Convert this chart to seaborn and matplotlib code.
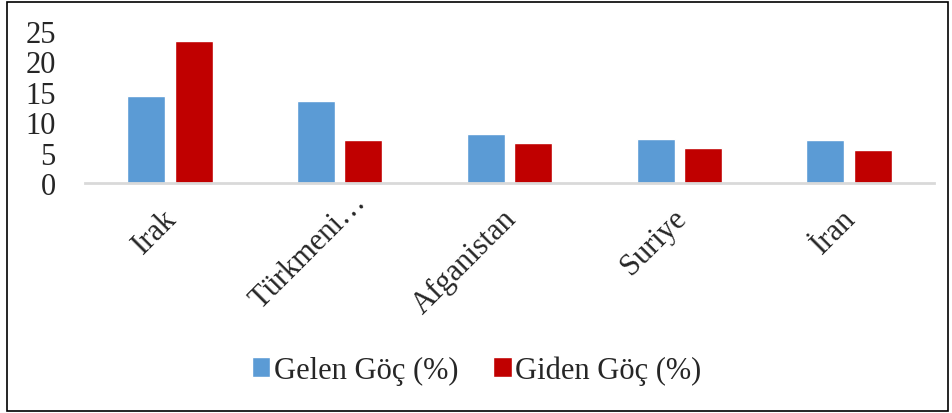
import matplotlib
matplotlib.use("Agg")
import matplotlib.pyplot as plt
import matplotlib.transforms as mtransforms
import seaborn as sns
import pandas as pd
from matplotlib.patches import Rectangle

categories = ["Irak", "Türkmeni…", "Afganistan", "Suriye", "İran"]
gelen = [14.3, 13.5, 8.1, 7.3, 7.1]
giden = [23.3, 7.1, 6.6, 5.8, 5.5]
series_names = ["Gelen Göç (%)", "Giden Göç (%)"]
colors = ["#5B9BD5", "#C00000"]
yticks = [0, 5, 10, 15, 20, 25]

df = pd.DataFrame({
    "Ülke": categories * 2,
    "Değer": gelen + giden,
    "Seri": [series_names[0]] * len(categories) + [series_names[1]] * len(categories),
})

sns.set_theme(style="white")
plt.rcParams["font.family"] = ["Liberation Serif", "DejaVu Serif"]

FS = 22

fig = plt.figure(figsize=(9.53, 4.14), dpi=100)
ax = fig.add_axes([85 / 953, 1 - 184 / 414, (934 - 85) / 953, (184 - 32) / 414])

sns.barplot(data=df, x="Ülke", y="Değer", hue="Seri", order=categories,
            hue_order=series_names, palette=colors, width=0.56, gap=0.2,
            saturation=1, errorbar=None, ax=ax, legend=True)

ax.set_ylim(0, 25)
ax.set_yticks(yticks)
ax.set_yticklabels([str(v) for v in yticks], fontsize=FS)
ax.set_xlim(-0.5, len(categories) - 0.5)
ax.set_xlabel("")
ax.set_ylabel("")
for s in ["top", "right", "left"]:
    ax.spines[s].set_visible(False)
ax.spines["bottom"].set_color("#D9D9D9")
ax.spines["bottom"].set_linewidth(2)
ax.tick_params(axis="y", length=0, pad=21)
ax.tick_params(axis="x", length=0, pad=4)
ax.grid(False)

for i, lbl in enumerate(ax.get_xticklabels()):
    lbl.set_rotation(45)
    lbl.set_ha("right")
    lbl.set_rotation_mode("anchor")
    lbl.set_fontsize(FS)
    dx, dy = -8, -15
    if categories[i].endswith("…"):
        dx, dy = dx + 20, dy + 17
    off = mtransforms.ScaledTranslation(dx / 100, dy / 100, fig.dpi_scale_trans)
    lbl.set_transform(lbl.get_transform() + off)

handles, labels = ax.get_legend_handles_labels()
ax.get_legend().remove()
fig.legend(handles, labels, loc="center", bbox_to_anchor=(0.5, 1 - 371 / 414),
           ncol=2, frameon=False, fontsize=FS, handlelength=0.6, handleheight=0.65,
           handletextpad=0.12, columnspacing=1.15)

fig.patches.append(Rectangle((7 / 953, 2 / 414), (948 - 7) / 953, (411 - 2) / 414,
                             transform=fig.transFigure, fill=False,
                             edgecolor="black", linewidth=1.2))

fig.savefig("out.png", dpi=100)
